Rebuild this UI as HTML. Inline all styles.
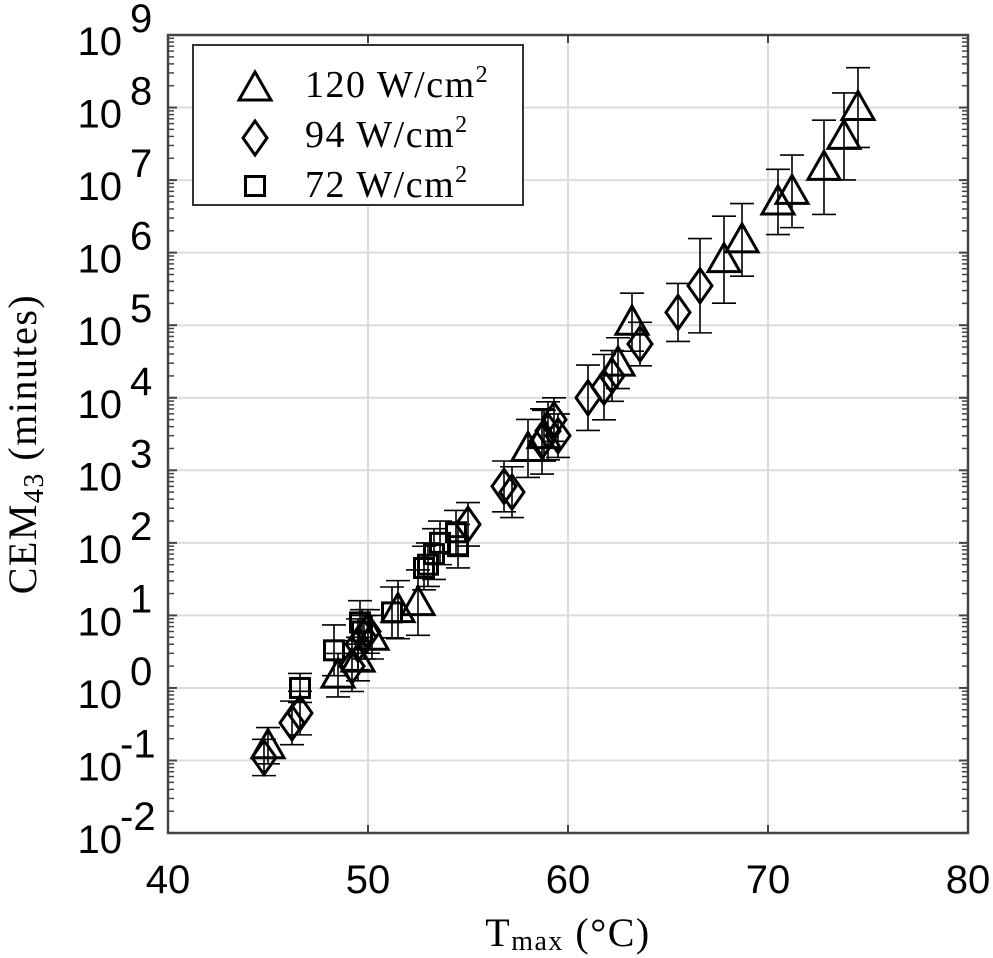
<!DOCTYPE html>
<html><head><meta charset="utf-8"><style>
body{margin:0;background:#fff}
svg{display:block}
.tk{font-family:"Liberation Sans",sans-serif;font-size:40px;fill:#000}
.sr{font-family:"Liberation Serif",serif;fill:#000;letter-spacing:1.5px}
</style></head><body>
<svg id="chart" width="993" height="958" viewBox="0 0 993 958" xmlns="http://www.w3.org/2000/svg">
<g id="grid"></g>
<g id="marks"></g>
<rect x="168" y="35" width="800" height="798" fill="none" stroke="#444" stroke-width="2.5"/>
<g id="ticks"></g>
<text class="sr" x="568" y="946" font-size="40" text-anchor="middle">T<tspan font-size="28" dy="4">max</tspan><tspan dy="-4"> (°C)</tspan></text>
<text class="sr" transform="translate(36,444) rotate(-90)" font-size="40" text-anchor="middle">CEM<tspan font-size="28" dy="7">43</tspan><tspan dy="-7"> (minutes)</tspan></text>
<g>
<rect x="193" y="45" width="330" height="160" fill="#fff" stroke="#333" stroke-width="2"/>
<g id="legmarks"></g>
<text class="sr" x="305" y="97" font-size="38" letter-spacing="2">120 W/cm<tspan font-size="24" dy="-15">2</tspan></text>
<text class="sr" x="305" y="147" font-size="38" letter-spacing="2">94 W/cm<tspan font-size="24" dy="-15">2</tspan></text>
<text class="sr" x="305" y="197" font-size="38" letter-spacing="2">72 W/cm<tspan font-size="24" dy="-15">2</tspan></text>
</g>
</svg>
<script>
const xTicks=[40,50,60,70,80];
const yTickExp=[-2,-1,0,1,2,3,4,5,6,7,8,9];
const triT=[45.0,48.5,49.5,50.2,51.5,52.5,58.0,58.8,62.5,63.2,67.8,68.7,70.5,71.2,72.8,73.8,74.5];
const triV=[0.16,1.5,2.5,5,12,15,2000,3000,30000,110000,8e5,1.5e6,5e6,7e6,1.5e7,4e7,1e8];
const triE=[0.25,0.3,0.3,0.3,0.4,0.45,0.4,0.35,0.35,0.4,0.6,0.5,0.45,0.5,0.65,0.6,0.55];
const diaT=[44.8,46.2,46.6,49.2,49.5,49.8,50.0,55.0,56.8,57.2,58.7,59.0,59.3,59.5,61.0,61.8,62.2,63.6,65.5,66.6];
const diaV=[0.11,0.33,0.45,2,4,5,6,180,600,500,2500,3500,5000,3000,10000,14000,20000,55000,1.5e5,3.5e5];
const diaE=[0.25,0.3,0.3,0.35,0.35,0.3,0.3,0.3,0.35,0.35,0.45,0.4,0.3,0.3,0.45,0.45,0.35,0.3,0.4,0.65];
const sqT=[46.6,48.3,49.6,49.7,51.2,52.8,53.0,53.3,53.6,54.4,54.5];
const sqV=[1.0,3.3,8,6,11,45,50,70,100,140,90];
const sqE=[0.2,0.35,0.3,0.3,0.35,0.3,0.3,0.35,0.3,0.3,0.3];
const NS="http://www.w3.org/2000/svg";
const X=t=>168+(t-40)*20;
const Y=lv=>35+(9-lv)*72.55;
function el(tag,attrs,parent){const e=document.createElementNS(NS,tag);for(const k in attrs)e.setAttribute(k,attrs[k]);parent.appendChild(e);return e;}
const grid=document.getElementById('grid'),ticks=document.getElementById('ticks'),marks=document.getElementById('marks');
xTicks.forEach(t=>{
  const l=el('line',{x1:X(t),x2:X(t),y1:35,y2:833,stroke:'#dcdcdc','stroke-width':2},grid);
  
  
  el('line',{x1:X(t),x2:X(t),y1:833,y2:825,stroke:'#444','stroke-width':2},ticks);
  el('line',{x1:X(t),x2:X(t),y1:35,y2:43,stroke:'#444','stroke-width':2},ticks);
  const tx=el('text',{x:X(t),y:893,class:'tk','text-anchor':'middle'},ticks);
  tx.textContent=t;
  
  
});
yTickExp.forEach(e=>{
  const y=Y(e);
  const l=el('line',{x1:168,x2:968,y1:y,y2:y,stroke:'#dcdcdc','stroke-width':2},grid);
  
  
  el('line',{x1:168,x2:177,y1:y,y2:y,stroke:'#444','stroke-width':2},ticks);
  el('line',{x1:968,x2:959,y1:y,y2:y,stroke:'#444','stroke-width':2},ticks);
  if(e<9){for(let k=2;k<10;k++){const ym=Y(e+Math.log10(k));
    el('line',{x1:168,x2:174,y1:ym,y2:ym,stroke:'#444','stroke-width':1.5},ticks);
    el('line',{x1:968,x2:962,y1:ym,y2:ym,stroke:'#444','stroke-width':1.5},ticks);}}
  const tx=el('text',{x:122,y:y+20,class:'tk','text-anchor':'end'},ticks);
  tx.textContent='10';
  
  
  const sp=el('text',{x:e<0?120:130,y:y-3,class:'tk','font-size':'26','text-anchor':'start'},ticks);
  sp.textContent=String(e);
  
  
});
function marker(type,cx,cy,parent){
  const s={fill:'none',stroke:'#000','stroke-width':3,'stroke-linejoin':'miter'};
  let m;
  if(type==='tri'){m=el('polygon',Object.assign({points:`${cx},${cy-16} ${cx+16},${cy+12} ${cx-16},${cy+12}`},s),parent);}
  else if(type==='dia'){m=el('polygon',Object.assign({points:`${cx},${cy-17} ${cx+12},${cy} ${cx},${cy+17} ${cx-12},${cy}`},s),parent);}
  else {m=el('rect',Object.assign({x:cx-9.5,y:cy-9.5,width:19,height:19},s),parent);}
  return m;
}
function series(type,T,V,E,name){
  const g=el('g',{},marks);
  
  
  T.forEach((t,i)=>{
    const cx=X(t),lv=Math.log10(V[i]),cy=Y(lv),y1=Y(lv+E[i]),y2=Y(lv-E[i]);
    const eb=el('path',{d:`M${cx},${y1}V${y2}M${cx-12},${y1}H${cx+12}M${cx-12},${y2}H${cx+12}`,stroke:'#000','stroke-width':1.6,fill:'none'},g);
    
    
    const m=marker(type,cx,cy,g);
    
    
  });
}
series('sq',sqT,sqV,sqE,'72w');
series('dia',diaT,diaV,diaE,'94w');
series('tri',triT,triV,triE,'120w');
const lm=document.getElementById('legmarks');
const a=marker('tri',255,88,lm);
const b=marker('dia',255,138,lm);
const c=marker('sq',255,186,lm);
</script>
</body></html>
